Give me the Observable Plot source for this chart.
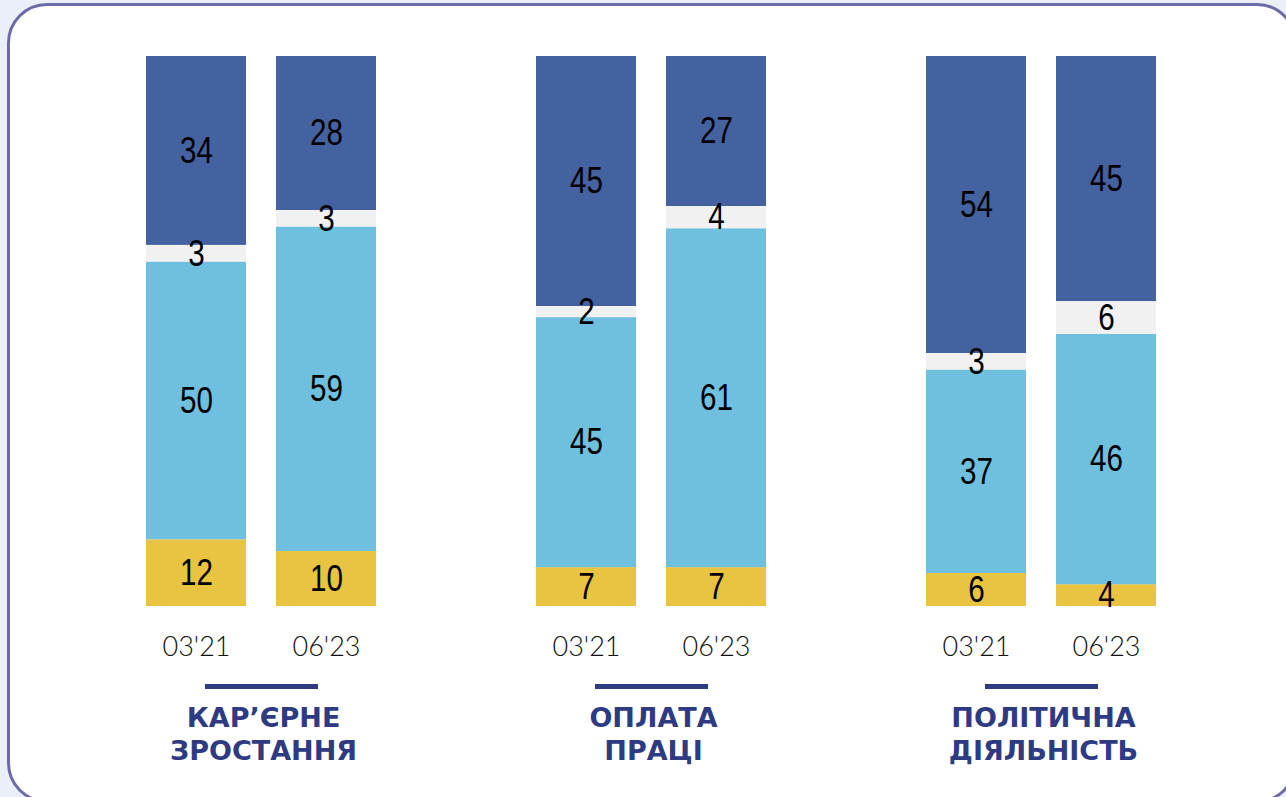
<!DOCTYPE html>
<html>
<head>
<meta charset="utf-8">
<script src="https://cdn.jsdelivr.net/npm/d3@7"></script>
<script src="https://cdn.jsdelivr.net/npm/@observablehq/plot@0.6"></script>
<style>
  html, body { margin: 0; padding: 0; width: 1286px; height: 797px; overflow: hidden; background: #ebf0f8; }
  #frame { position: absolute; left: 7px; top: 3px; width: 1290px; height: 800px; box-sizing: border-box;
           border: 3px solid #6a6ba8; border-radius: 40px; background: #ffffff; }
  #chart { position: absolute; left: 0; top: 0; }
  #chart svg { overflow: visible; }
</style>
</head>
<body>
<div id="frame"></div>
<div id="chart"></div>
<script>
// ---- data ----
const groups = ["Кар’єрне зростання", "Оплата праці", "Політична діяльність"];
const groupTitles = ["КАР’ЄРНЕ\nЗРОСТАННЯ", "ОПЛАТА\nПРАЦІ", "ПОЛІТИЧНА\nДІЯЛЬНІСТЬ"];
const periods = ["03'21", "06'23"];
const series = ["Серія 1", "Серія 2", "Серія 3", "Серія 4"]; // bottom to top
const seriesColors = ["#e8c441", "#6fc0de", "#f1f1f1", "#4562a0"];
// values per series, ordered [group1: 03'21, 06'23, group2: ..., group3: ...]
const valuesS1 = [12, 10, 7, 7, 6, 4];
const valuesS2 = [50, 59, 45, 61, 37, 46];
const valuesS3 = [3, 3, 2, 4, 3, 6];
const valuesS4 = [34, 28, 45, 27, 54, 45];

const seriesValues = [valuesS1, valuesS2, valuesS3, valuesS4];
const data = [];
groups.forEach((g, gi) => {
  periods.forEach((p, pi) => {
    series.forEach((s, si) => {
      data.push({group: g, period: p, series: s, value: seriesValues[si][gi * periods.length + pi]});
    });
  });
});
const groupData = groups.map((g, i) => ({group: g, title: groupTitles[i], y: 0}));

const chart = Plot.plot({
  width: 1286,
  height: 797,
  marginTop: 56,
  marginBottom: 191,
  marginLeft: 66,
  marginRight: 50,
  style: {background: "transparent", overflow: "visible"},
  fx: {domain: groups, padding: 0, axis: null, label: null},
  x: {domain: periods, paddingInner: 0.2308, paddingOuter: 0.6154, axis: null, label: null},
  y: {axis: null, label: null},
  color: {domain: series, range: seriesColors},
  marks: [
    Plot.barY(data, {fx: "group", x: "period", y: "value", fill: "series", offset: "normalize"}),
    Plot.text(data, Plot.stackY({fx: "group", x: "period", y: "value", z: "series", text: "value",
      offset: "normalize", fill: "#000", fontSize: 37, className: "vals",
      fontFamily: "'Liberation Sans', Arial, sans-serif"})),
    Plot.axisX({tickSize: 0, tickPadding: 30, label: null, fontSize: 27, fontWeight: 300,
      fontFamily: "Lato, 'Open Sans', sans-serif", fill: "#111"}),
    Plot.ruleY(groupData, {fx: "group", y: "y", dy: 80, insetLeft: 139, insetRight: 138,
      stroke: "#2e3a82", strokeWidth: 5}),
    Plot.text(groupData, {fx: "group", text: "title", frameAnchor: "bottom", lineAnchor: "top",
      dy: 97, dx: 2, fontSize: 27, fontWeight: "bold", fontFamily: "'DejaVu Sans', sans-serif",
      fill: "#2e3b83", lineHeight: 1.22})
  ]
});
// condense the value labels horizontally (narrow-font look), keeping their anchor positions
d3.select(chart).selectAll(".vals text").each(function() {
  const el = d3.select(this);
  const t = el.attr("transform");
  if (t) {
    el.attr("transform", t + " scale(0.8,1)");
  } else {
    const x = +el.attr("x") || 0, y = +el.attr("y") || 0;
    el.attr("x", null).attr("y", null).attr("transform", `translate(${x},${y}) scale(0.8,1)`);
  }
});
document.getElementById("chart").appendChild(chart);
</script>
</body>
</html>
